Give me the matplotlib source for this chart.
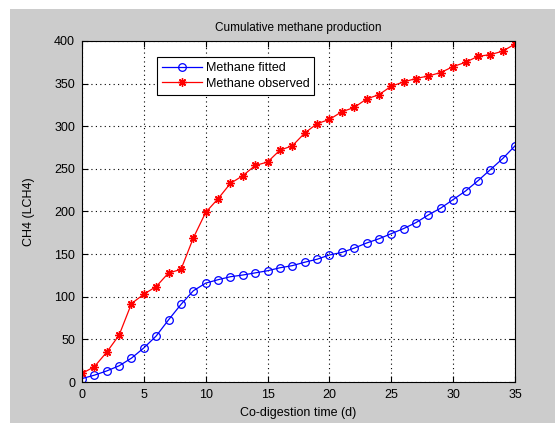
import matplotlib.pyplot as plt
from matplotlib.patches import Rectangle
import numpy as np

plt.rcParams['font.family'] = ['Liberation Sans', 'DejaVu Sans']

# data
days = np.arange(0, 36)
fitted = [4, 8, 13, 19, 28, 40, 54, 73, 91, 107,
          116, 120, 123.5, 125.5, 128, 130.5, 134, 136.5, 140.5, 144,
          149, 152, 157, 163, 168, 174, 180, 187, 196, 204,
          214, 224, 236, 249, 262, 277]
observed = [10, 18, 35, 55, 92, 103, 112, 128, 132, 169,
            199, 215, 233, 242, 254, 258, 272, 277, 292, 303,
            308, 317, 322, 332, 337, 347, 352, 356, 359, 363,
            370, 375, 382, 384, 388, 396.5]

fig = plt.figure(figsize=(5.55, 4.23), dpi=100, facecolor='white')
# MATLAB-like grey figure panel (white strip on left/top like the screenshot)
fig.patches.append(Rectangle((10 / 555, 0), 1, 1 - 9 / 423, transform=fig.transFigure,
                             facecolor='#cccccc', edgecolor='none', zorder=-10))

ax = fig.add_axes([82 / 555, 41 / 423, 433 / 555, 341 / 423])
ax.plot(days, fitted, '-o', color='#0000ff', markerfacecolor='none',
        markersize=5.5, linewidth=0.9, markeredgewidth=0.9, label='Methane fitted')
# MATLAB '*' is a line asterisk, not a filled star
ax.plot(days, observed, '-', marker=(8, 2, 0), color='#ff0000', markersize=6,
        linewidth=0.9, markeredgewidth=1.0, label='Methane observed')

ax.set_xlim(0, 35)
ax.set_ylim(0, 400)
ax.set_xticks(np.arange(0, 36, 5))
ax.set_yticks(np.arange(0, 401, 50))
ax.tick_params(direction='in', top=True, right=True, labelsize=9, length=4, pad=5)
ax.grid(True, color='black', linestyle=(0, (1, 3)), linewidth=0.8)
for s in ax.spines.values():
    s.set_linewidth(0.8)

ax.set_title('Cumulative methane production', fontsize=8.5, pad=7)
ax.set_xlabel('Co-digestion time (d)', fontsize=9, labelpad=4)
ax.set_ylabel('CH4 (LCH4)', fontsize=9, labelpad=14)

leg = ax.legend(loc='upper left', bbox_to_anchor=(0.173, 0.953), fontsize=9,
                fancybox=False, framealpha=1, edgecolor='black',
                borderaxespad=0, handlelength=3.2, labelspacing=0.3,
                borderpad=0.4, handletextpad=0.3)
leg.get_frame().set_linewidth(0.8)

fig.savefig('out.png', dpi=100, facecolor=fig.get_facecolor())
